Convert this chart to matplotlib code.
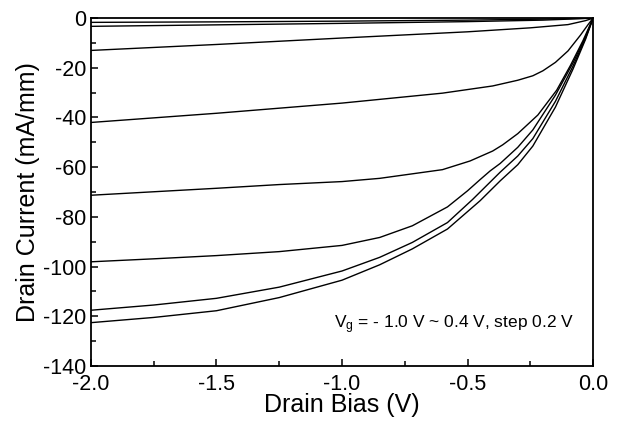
#!/usr/bin/env python3
import numpy
import matplotlib
matplotlib.use('Agg')
import matplotlib.pyplot as plt
from matplotlib.ticker import MultipleLocator

plt.rcParams['font.family'] = ['Liberation Sans', 'DejaVu Sans']
plt.rcParams['axes.unicode_minus'] = False
plt.rcParams['mathtext.default'] = 'regular'

### curves, Vg = -1.0 V ... 0.4 V, step 0.2 V
vg_labels = ['-1.0', '-0.8', '-0.6', '-0.4', '-0.2', '0.0', '0.2', '0.4']

bias_a = [-2.0, -1.5, -1.0, -0.5, -0.2, 0.0]
curr_a = [-1.7, -1.5, -1.2, -0.8, -0.4, 0.0]

bias_b = [-2.0, -1.5, -1.0, -0.5, -0.2, 0.0]
curr_b = [-3.3, -2.7, -2.1, -1.4, -0.8, 0.0]

bias_c = [-2.0, -1.5, -1.0, -0.5, -0.25, -0.1, -0.03, 0.0]
curr_c = [-13.0, -10.6, -8.0, -5.5, -3.9, -2.6, -1.0, 0.0]

bias_d = [-2.0, -1.5, -1.0, -0.6, -0.4, -0.3, -0.24, -0.2, -0.15, -0.1, -0.05, -0.02, 0.0]
curr_d = [-42.0, -38.3, -34.2, -30.2, -27.3, -25.0, -23.2, -21.2, -17.8, -13.2, -6.8, -2.6, 0.0]

bias_e = [-2.0, -1.5, -1.25, -1.0, -0.85, -0.6, -0.49, -0.4, -0.36, -0.3, -0.22, -0.145, -0.09, -0.04, 0.0]
curr_e = [-71.3, -68.5, -67.0, -65.8, -64.5, -61.0, -57.5, -53.5, -51.0, -46.5, -39.0, -29.0, -19.0, -9.0, 0.0]

bias_f = [-2.0, -1.75, -1.5, -1.25, -1.0, -0.85, -0.72, -0.58, -0.5, -0.45, -0.41, -0.37, -0.3, -0.24, -0.15, -0.08, -0.03, 0.0]
curr_f = [-98.1, -96.9, -95.6, -94.0, -91.5, -88.3, -83.6, -76.0, -69.5, -65.0, -61.5, -58.5, -52.0, -45.0, -31.0, -18.0, -7.5, 0.0]

bias_g = [-2.0, -1.75, -1.5, -1.25, -1.0, -0.85, -0.72, -0.58, -0.48, -0.45, -0.41, -0.37, -0.3, -0.24, -0.15, -0.08, -0.03, 0.0]
curr_g = [-117.6, -115.5, -112.8, -108.3, -101.8, -96.3, -90.3, -82.3, -73.0, -70.0, -66.0, -62.0, -55.5, -48.5, -33.5, -19.3, -8.0, 0.0]

bias_h = [-2.0, -1.75, -1.5, -1.25, -1.0, -0.85, -0.72, -0.58, -0.45, -0.41, -0.37, -0.3, -0.24, -0.15, -0.08, -0.03, 0.0]
curr_h = [-122.6, -120.5, -117.8, -112.5, -105.5, -99.3, -92.9, -84.9, -73.5, -69.5, -65.5, -59.0, -51.5, -35.8, -20.5, -8.5, 0.0]

curves = [(bias_a, curr_a), (bias_b, curr_b), (bias_c, curr_c), (bias_d, curr_d),
          (bias_e, curr_e), (bias_f, curr_f), (bias_g, curr_g), (bias_h, curr_h)]

fig = plt.figure(figsize=(6.23, 4.22), dpi=100)
ax = fig.add_axes([0.146, 0.133, 0.806, 0.824])

for (x, y) in curves:
    ax.plot(x, y, color='black', linewidth=1.0)

ax.set_xlim(-2.0, 0.0)
ax.set_ylim(-140, 0)
ax.xaxis.set_major_locator(MultipleLocator(0.5))
ax.xaxis.set_minor_locator(MultipleLocator(0.25))
ax.yaxis.set_major_locator(MultipleLocator(20))
ax.yaxis.set_minor_locator(MultipleLocator(10))
ax.xaxis.set_major_formatter(lambda v, pos: '{:.1f}'.format(v))
ax.tick_params(which='both', direction='in', top=False, right=False, labelsize=15.5, width=1.1)
ax.tick_params(which='major', length=5)
ax.tick_params(which='minor', length=3.5)
ax.tick_params(axis='x', pad=6)
for s in ax.spines.values():
    s.set_linewidth(1.3)

ax.set_xlabel('Drain Bias (V)', fontsize=18, labelpad=-1.5)
ax.set_ylabel('Drain Current (mA/mm)', fontsize=18, labelpad=2)

ax.text(0.485, 0.108, 'V$_g$ = - 1.0 V ~ 0.4 V, step 0.2 V', transform=ax.transAxes,
        fontsize=12.5, ha='left', va='baseline')

fig.savefig('out.png', dpi=100)
plt.close()
